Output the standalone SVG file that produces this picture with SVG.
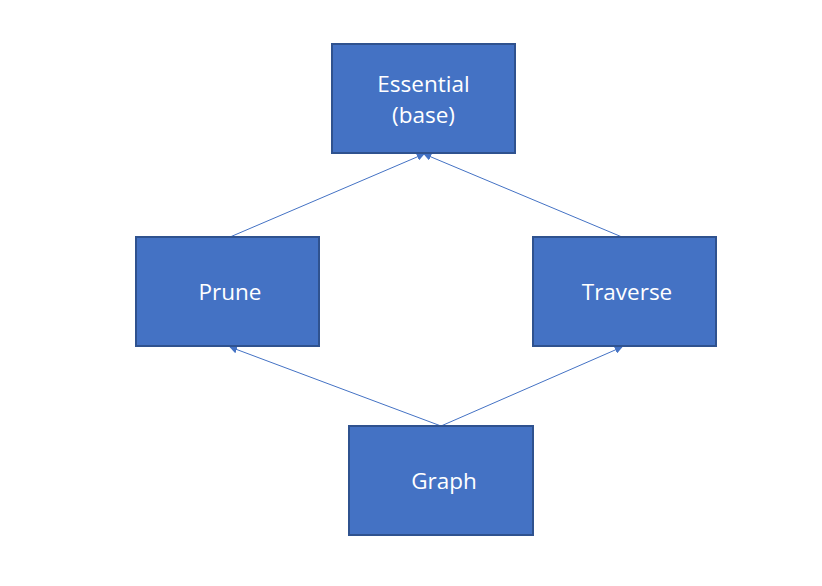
<svg xmlns="http://www.w3.org/2000/svg" width="822" height="586" viewBox="0 0 822 586">
<defs>
<style>
.box{fill:#4472C4;stroke:#2F528F;stroke-width:2}
.lbl{fill:#fff;font-family:"Open Sans","Noto Sans","DejaVu Sans",sans-serif;font-size:22.5px;text-anchor:middle}
.edge{stroke:#4472C4;stroke-width:1;fill:none;marker-end:url(#arr)}
</style>
<marker id="arr" viewBox="0 0 10 10" refX="9" refY="5" markerWidth="8" markerHeight="8" markerUnits="userSpaceOnUse" orient="auto">
<path d="M0,0 L10,5 L0,10 z" fill="#4472C4"/>
</marker>
</defs>
<rect width="822" height="586" fill="#fff"/>
<g id="connectors">
<line class="edge" x1="230" y1="237" x2="424" y2="154"/>
<line class="edge" x1="622" y1="237" x2="424" y2="154"/>
<line class="edge" x1="441" y1="426" x2="230" y2="347"/>
<line class="edge" x1="441" y1="426" x2="622" y2="347"/>
</g>
<g id="essential">
<rect class="box" x="332" y="44" width="183" height="109"/>
<text class="lbl" x="423.5" y="92">Essential</text>
<text class="lbl" x="423.5" y="123">(base)</text>
</g>
<g id="prune">
<rect class="box" x="136" y="237" width="183" height="109"/>
<text class="lbl" x="230" y="300">Prune</text>
</g>
<g id="traverse">
<rect class="box" x="533" y="237" width="183" height="109"/>
<text class="lbl" x="627" y="300">Traverse</text>
</g>
<g id="graph">
<rect class="box" x="349" y="426" width="184" height="109"/>
<text class="lbl" x="444" y="489">Graph</text>
</g>
</svg>
